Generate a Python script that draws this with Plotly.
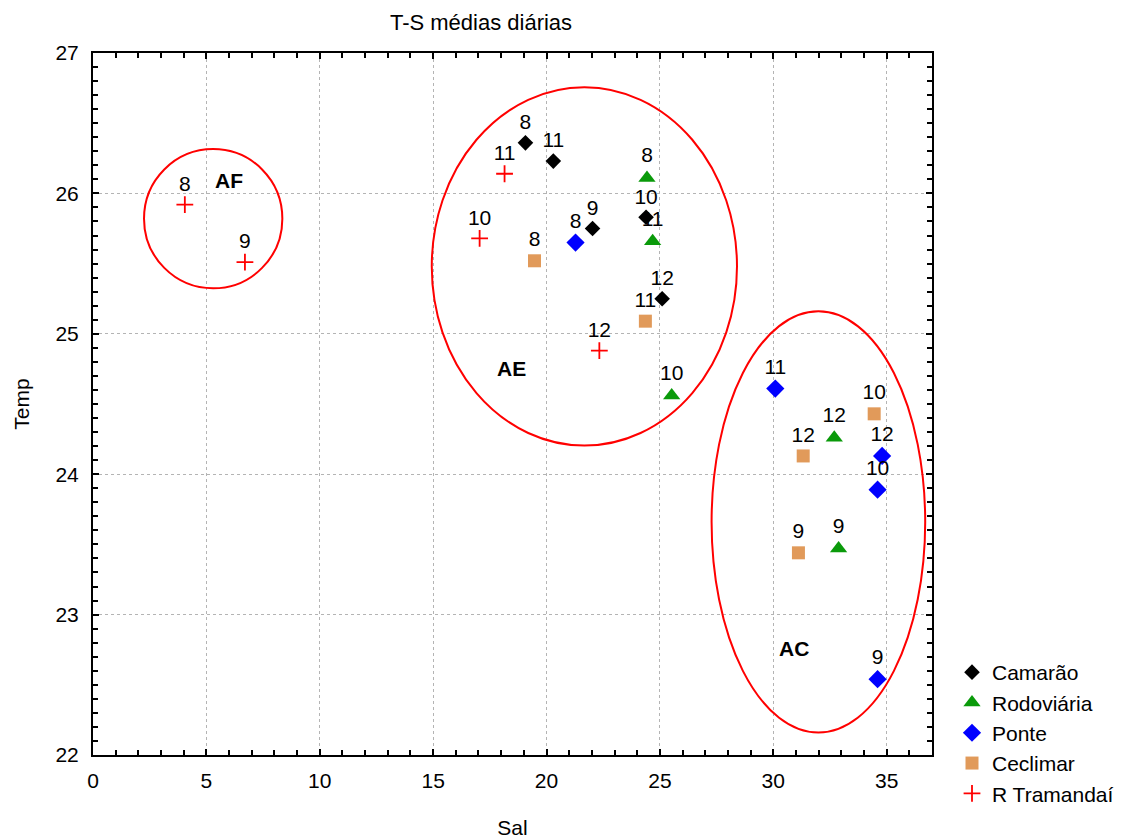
import plotly.graph_objects as go

# ---- data (Sal, Temp, month label) ----
camarao_sal = [19.07, 20.30, 22.03, 24.39, 25.10]
camarao_temp = [26.36, 26.23, 25.75, 25.83, 25.25]
camarao_lab = ["8", "11", "9", "10", "12"]

rodov_sal = [24.43, 24.68, 25.52, 32.69, 32.88]
rodov_temp = [26.11, 25.66, 24.56, 24.26, 23.47]
rodov_lab = ["8", "11", "10", "12", "9"]

ponte_sal = [21.28, 30.09, 34.80, 34.60, 34.60]
ponte_temp = [25.65, 24.61, 24.13, 23.89, 22.54]
ponte_lab = ["8", "11", "12", "10", "9"]

cecl_sal = [19.47, 24.36, 34.45, 31.32, 31.11]
cecl_temp = [25.52, 25.09, 24.43, 24.13, 23.44]
cecl_lab = ["8", "11", "10", "12", "9"]

tram_sal = [4.05, 6.70, 18.15, 17.05, 22.33]
tram_temp = [25.92, 25.51, 26.14, 25.68, 24.88]
tram_lab = ["8", "9", "11", "10", "12"]

# groups (ellipses): name, centre, half-axes, label position
grp_names = ["AF", "AE", "AC"]
grp_cx = [5.30, 21.67, 31.99]
grp_cy = [25.82, 25.48, 23.66]
grp_rx = [3.05, 6.73, 4.71]
grp_ry = [0.496, 1.276, 1.50]
grp_lx = [6.0, 18.44, 30.9]
grp_ly = [26.09, 24.75, 22.76]

FONT = "Liberation Sans, Arial, sans-serif"
FS = 21

fig = go.Figure()

def add(name, xs, ys, labs, symbol, color, size, line=None):
    marker = dict(symbol=symbol, color=color, size=size)
    if line:
        marker["line"] = line
    fig.add_trace(go.Scatter(
        x=xs, y=ys, text=labs, name=name, mode="markers+text",
        textposition="top center",
        textfont=dict(family=FONT, size=FS, color="black"),
        marker=marker, cliponaxis=False,
    ))

add("Camarão", camarao_sal, camarao_temp, camarao_lab, "diamond", "black", 12)
add("Rodoviária", rodov_sal, rodov_temp, rodov_lab, "triangle-up", "#0a9a0a", 15)
add("Ponte", ponte_sal, ponte_temp, ponte_lab, "diamond", "#0000ff", 14)
add("Ceclimar", cecl_sal, cecl_temp, cecl_lab, "square", "#e19a5a", 13)
add("R Tramandaí", tram_sal, tram_temp, tram_lab, "cross-thin", "red", 12,
    line=dict(color="red", width=1.8))

for cx, cy, rx, ry in zip(grp_cx, grp_cy, grp_rx, grp_ry):
    fig.add_shape(type="circle", xref="x", yref="y",
                  x0=cx - rx, x1=cx + rx, y0=cy - ry, y1=cy + ry,
                  line=dict(color="red", width=2), layer="above")

for n, lx, ly in zip(grp_names, grp_lx, grp_ly):
    fig.add_annotation(x=lx, y=ly, text="<b>%s</b>" % n, showarrow=False,
                       font=dict(family=FONT, size=FS, color="black"))

axis_common = dict(
    showline=True, linecolor="black", linewidth=2, mirror="ticks",
    ticks="inside", ticklen=6, tickcolor="black", tickwidth=1.5,
    showgrid=True, gridcolor="#b4b4b4", griddash="dot", gridwidth=1,
    zeroline=False, tickfont=dict(family=FONT, size=FS, color="black"),
    automargin=False,
)

fig.update_xaxes(range=[0, 37], tick0=0, dtick=5, ticklabelstandoff=6,
                 minor=dict(dtick=1, ticks="inside", ticklen=5, tickcolor="black", showgrid=False),
                 title=dict(text="Sal", font=dict(family=FONT, size=FS, color="black"), standoff=30),
                 **axis_common)
fig.update_yaxes(range=[22, 27], tick0=22, dtick=1, ticklabelstandoff=8,
                 minor=dict(dtick=0.1, ticks="inside", ticklen=5, tickcolor="black", showgrid=False),
                 title=dict(text="Temp", font=dict(family=FONT, size=FS, color="black"), standoff=20),
                 **axis_common)

fig.update_layout(
    width=1138, height=839,
    margin=dict(l=93, r=206, t=53, b=84, autoexpand=False),
    paper_bgcolor="white", plot_bgcolor="white",
    font=dict(family=FONT, size=FS, color="black"),
    title=dict(text="T-S médias diárias", x=481 / 1138, xanchor="center",
               y=1 - 22 / 839, yanchor="middle",
               font=dict(family=FONT, size=22, color="black")),
    legend=dict(x=(952 - 93) / (1138 - 93 - 206), xanchor="left",
                y=(839 - 84 - 652) / (839 - 53 - 84),
                yanchor="top", font=dict(family=FONT, size=FS, color="black"),
                bgcolor="rgba(0,0,0,0)", itemwidth=30, tracegroupgap=0),
    showlegend=True,
)

fig.write_html("out.html")
